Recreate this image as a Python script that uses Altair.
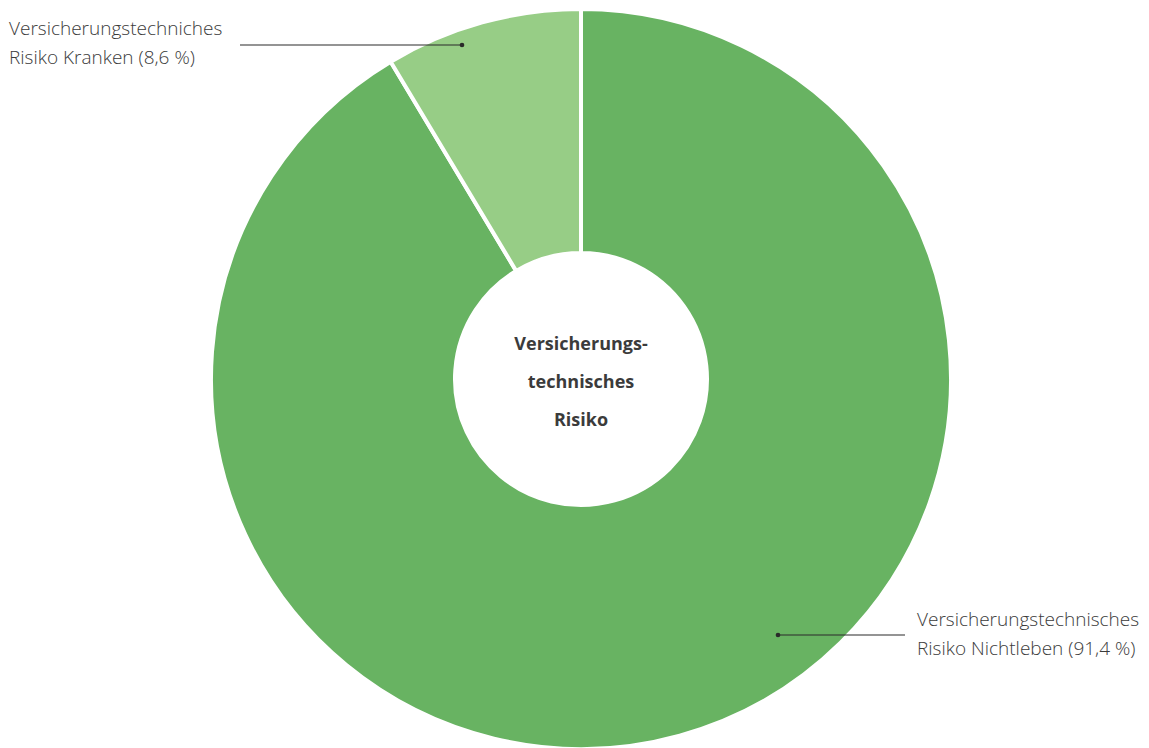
import altair as alt
import pandas as pd

# ---- data ----
categories = ["Versicherungstechnisches Risiko Nichtleben", "Versicherungstechniches Risiko Kranken"]
shares = [91.4, 8.6]
colors = ["#68b362", "#97cd86"]
label_nichtleben = "Versicherungstechnisches\nRisiko Nichtleben (91,4 %)"
label_kranken = "Versicherungstechniches\nRisiko Kranken (8,6 %)"
center_text = "Versicherungs-\ntechnisches\nRisiko"

df = pd.DataFrame({"category": categories, "share": shares, "order": list(range(len(categories)))})

CX, CY = 581, 379
TEXT_COLOR = "#3b3b3b"
FONT = "Open Sans"

donut = alt.Chart(df).mark_arc(
    innerRadius=126, outerRadius=370, stroke="white", strokeWidth=4
).encode(
    theta=alt.Theta("share:Q", stack=True),
    color=alt.Color("category:N", scale=alt.Scale(domain=categories, range=colors), legend=None),
    order=alt.Order("order:Q"),
    x=alt.value(CX),
    y=alt.value(CY),
)

one = pd.DataFrame({"k": [0]})

center = alt.Chart(one).mark_text(
    align="center", baseline="alphabetic", fontSize=18, fontWeight="bold",
    font=FONT, color=TEXT_COLOR, lineBreak="\n", lineHeight=38
).encode(x=alt.value(CX), y=alt.value(350), text=alt.value(center_text))

lbl_k = alt.Chart(one).mark_text(
    align="left", baseline="alphabetic", fontSize=19, font=FONT, fontWeight=300,
    color=TEXT_COLOR, lineBreak="\n", lineHeight=29
).encode(x=alt.value(9), y=alt.value(35), text=alt.value(label_kranken))

lbl_n = alt.Chart(one).mark_text(
    align="left", baseline="alphabetic", fontSize=19, font=FONT, fontWeight=300,
    color=TEXT_COLOR, lineBreak="\n", lineHeight=29
).encode(x=alt.value(917), y=alt.value(626), text=alt.value(label_nichtleben))

rule_k = alt.Chart(one).mark_rule(color="#2a2a2a", strokeWidth=1.2).encode(
    x=alt.value(240), x2=alt.value(462), y=alt.value(45))
dot_k = alt.Chart(one).mark_point(filled=True, color="#2a2a2a", size=22, opacity=1).encode(
    x=alt.value(462), y=alt.value(45))

rule_n = alt.Chart(one).mark_rule(color="#2a2a2a", strokeWidth=1.2).encode(
    x=alt.value(778), x2=alt.value(905), y=alt.value(635))
dot_n = alt.Chart(one).mark_point(filled=True, color="#2a2a2a", size=22, opacity=1).encode(
    x=alt.value(778), y=alt.value(635))

chart = alt.layer(donut, center, lbl_k, lbl_n, rule_k, dot_k, rule_n, dot_n).properties(
    width=1149, height=748, padding=0, autosize=alt.AutoSizeParams(type="none"),
    background="white"
).configure_view(stroke=None)

chart.save("out.html", embed_options={"renderer": "svg", "actions": False})
